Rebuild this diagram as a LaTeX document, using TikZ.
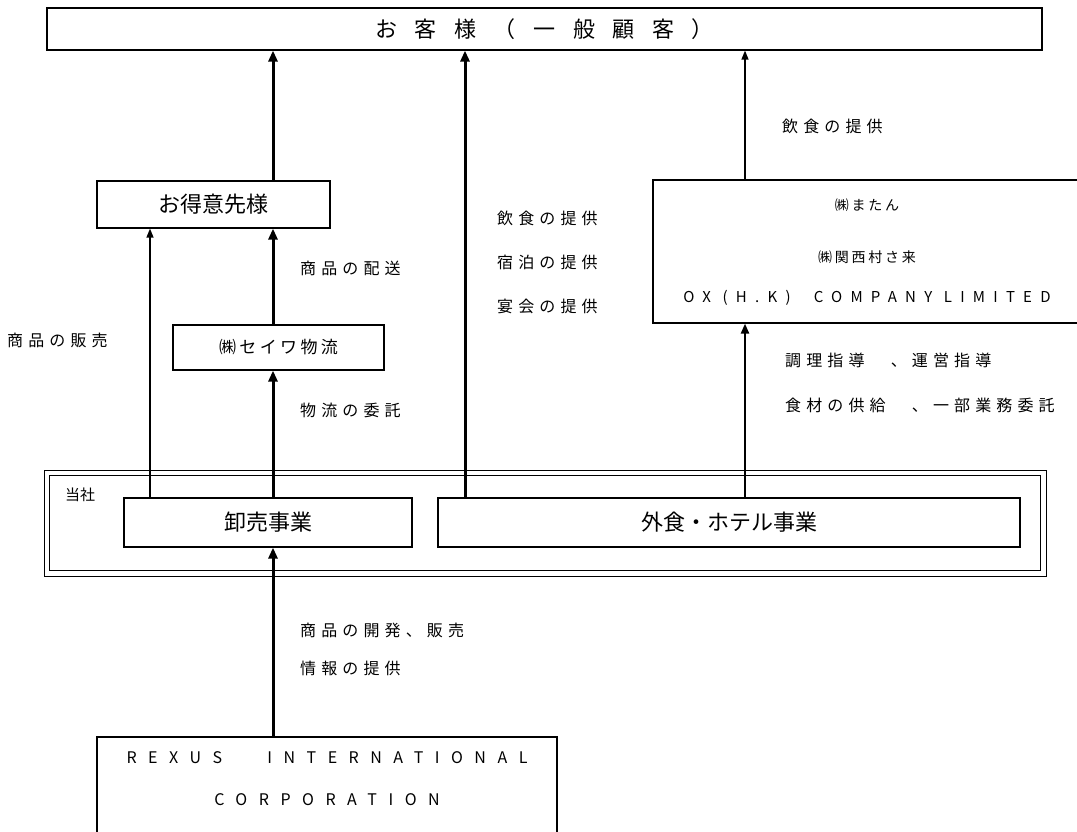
\documentclass[tikz,border=0pt]{standalone}
\usepackage{fontspec}
\setmainfont{Noto Sans CJK JP}
\usetikzlibrary{arrows.meta}
\begin{document}
\begin{tikzpicture}[x=1pt,y=-1pt,
 box/.style={draw, line width=1.2pt, inner sep=0pt, font=\fontsize{22}{26}\selectfont},
 tharrow/.style={-{Triangle[width=9pt,length=11pt]}, line width=3pt},
 mdarrow/.style={-{Triangle[width=8pt,length=10pt]}, line width=2.2pt},
 tnarrow/.style={-{Triangle[width=7pt,length=9pt]}, line width=1.3pt},
 lbl/.style={anchor=west, inner sep=0pt, font=\fontsize{16}{18}\selectfont\addfontfeature{LetterSpace=32}},
 sml/.style={inner sep=0pt, font=\fontsize{14}{16}\selectfont\addfontfeature{LetterSpace=20}}]
\useasboundingbox (0,0) rectangle (1077,832);
% boxes
\node[box, minimum width=995pt, minimum height=42pt, font=\fontsize{22}{26}\selectfont\addfontfeature{LetterSpace=80}] (top) at (544.5,29) {お客様（一般顧客）};
\node[box, minimum width=233pt, minimum height=47pt] (toku) at (213.5,204.5) {お得意先様};
\node[box, minimum width=211pt, minimum height=45pt, font=\fontsize{17}{20}\selectfont\addfontfeature{LetterSpace=20}] (seiwa) at (278.5,347.5) {㈱セイワ物流};
\node[box, minimum width=437pt, minimum height=143pt] (mr) at (871.5,251.5) {};
\node[sml] (mr1) at (867,205) {㈱またん};
\node[sml] (mr2) at (867,257) {㈱関西村さ来};
\node[sml, font=\fontsize{15}{16}\selectfont\addfontfeature{LetterSpace=55}] (mr3) at (867,298) {OX (H.K)\ \ COMPANY LIMITED};
% tosha frame
\node[draw, line width=0.9pt, minimum width=1002pt, minimum height=106pt, inner sep=0pt] (tosha) at (545,523) {};
\draw[line width=1.6pt] ([shift={(6pt,-6pt)}]tosha.north west) rectangle ([shift={(-6pt,6pt)}]tosha.south east);
\node[anchor=west, inner sep=0pt, font=\fontsize{15}{18}\selectfont] (toshal) at (65,495) {当社};
\node[box, minimum width=288pt, minimum height=49pt] (orosi) at (268,522.5) {卸売事業};
\node[box, minimum width=582pt, minimum height=49pt] (gai) at (729,522.5) {外食・ホテル事業};
\node[box, minimum width=460pt, minimum height=103pt] (rexus) at (327,788.5) {};
\node[inner sep=0pt, font=\fontsize{16}{18}\selectfont\addfontfeature{LetterSpace=72}] (rx1) at (327,758) {REXUS\ \ \ INTERNATIONAL};
\node[inner sep=0pt, font=\fontsize{16}{18}\selectfont\addfontfeature{LetterSpace=72}] (rx2) at (327,800) {CORPORATION};
% arrow columns
\coordinate (a1) at (150,0);
\coordinate (a2) at (273,0);
\coordinate (a3) at (465,0);
\coordinate (a4) at (745,0);
\draw[tnarrow] (orosi.north -| a1) -- (toku.south -| a1);
\draw[tharrow] (orosi.north -| a2) -- (seiwa.south -| a2);
\draw[tharrow] (seiwa.north -| a2) -- (toku.south -| a2);
\draw[tharrow] (toku.north -| a2) -- (top.south -| a2);
\draw[tharrow] (gai.north -| a3) -- (top.south -| a3);
\draw[mdarrow] (gai.north -| a4) -- (mr.south -| a4);
\draw[tnarrow] (mr.north -| a4) -- (top.south -| a4);
\draw[tharrow] (rexus.north -| a2) -- (orosi.south -| a2);
% labels
\node[lbl] (l1) at (782,126) {飲食の提供};
\node[lbl] (l2) at (497,218) {飲食の提供};
\node[lbl] (l3) at (497,262) {宿泊の提供};
\node[lbl] (l4) at (497,306) {宴会の提供};
\node[lbl] (l5) at (300,268) {商品の配送};
\node[lbl] (l6) at (7,340) {商品の販売};
\node[lbl] (l7) at (300,410) {物流の委託};
\node[lbl] (l8) at (785,360) {調理指導　、運営指導};
\node[lbl] (l9) at (785,405) {食材の供給　、一部業務委託};
\node[lbl] (l10) at (300,630) {商品の開発、販売};
\node[lbl] (l11) at (300,668) {情報の提供};
\end{tikzpicture}
\end{document}
